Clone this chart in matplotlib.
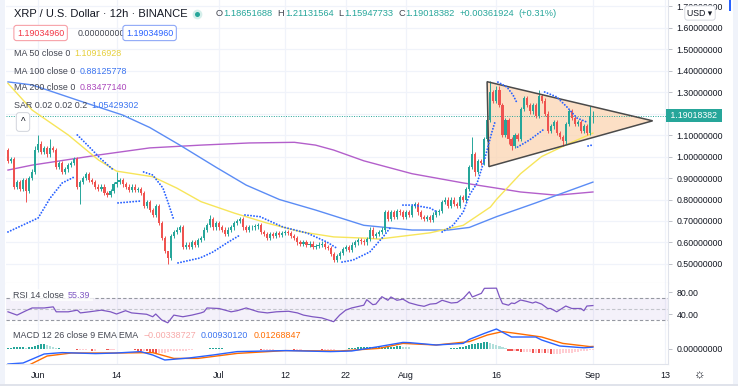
import numpy as np
import matplotlib
matplotlib.use("Agg")
import matplotlib.pyplot as plt
from matplotlib.patches import Polygon, Rectangle
from matplotlib.lines import Line2D

plt.rcParams['font.family'] = ['Liberation Sans', 'DejaVu Sans']

# 12h candles: index 0 = May 27 00:00, index 194 = Sep 1 00:00
start_day = -5  # days relative to Jun 1
first_open = 1.03
closes = [
    0.98, 0.99, 0.86, 0.88, 0.85, 0.89, 0.84, 0.90, 0.93, 1.03,
    1.06, 1.02, 1.04, 1.01, 1.04, 1.03, 0.95, 0.97, 0.93, 0.94,
    0.96, 0.97, 0.99, 0.86, 0.88, 0.90, 0.92, 0.89, 0.88, 0.86,
    0.85, 0.86, 0.83, 0.82, 0.84, 0.87, 0.88, 0.89, 0.87, 0.86,
    0.845, 0.86, 0.845, 0.85, 0.83, 0.77, 0.79, 0.75, 0.73, 0.77,
    0.69, 0.62, 0.56, 0.53, 0.63, 0.65, 0.66, 0.67, 0.58, 0.59,
    0.58, 0.60, 0.59, 0.61, 0.62, 0.66, 0.68, 0.71, 0.67, 0.69,
    0.67, 0.66, 0.64, 0.66, 0.67, 0.69, 0.70, 0.71, 0.67, 0.66,
    0.67, 0.67, 0.675, 0.68, 0.65, 0.64, 0.62, 0.64, 0.63, 0.645,
    0.635, 0.645, 0.65, 0.645, 0.63, 0.62, 0.60, 0.595, 0.60, 0.59,
    0.595, 0.58, 0.585, 0.59, 0.595, 0.58, 0.575, 0.545, 0.52, 0.535,
    0.55, 0.57, 0.58, 0.565, 0.59, 0.60, 0.61, 0.605, 0.60, 0.615,
    0.66, 0.63, 0.64, 0.65, 0.66, 0.74, 0.71, 0.74, 0.72, 0.745,
    0.74, 0.72, 0.74, 0.73, 0.77, 0.78, 0.74, 0.72, 0.71, 0.72,
    0.705, 0.73, 0.74, 0.745, 0.79, 0.80, 0.77, 0.80, 0.78, 0.77,
    0.81, 0.80, 0.85, 0.95, 1.01, 0.93, 0.98, 0.97, 1.08, 1.17,
    1.30, 1.26, 1.31, 1.24, 1.10, 1.17, 1.08, 1.05, 1.10, 1.08,
    1.22, 1.27, 1.24, 1.21, 1.24, 1.19, 1.28, 1.26, 1.20, 1.12,
    1.14, 1.16, 1.11, 1.09, 1.07, 1.15, 1.21, 1.18, 1.15, 1.16,
    1.12, 1.14, 1.11, 1.1865, 1.19018,
]
# shadow lengths in cents, one digit per candle
wick_up = ("1111111112" "4111411111" "1111111111" "1111115111" "1111111111"
           "1110111111" "1111111211" "1111111111" "1111111111" "1111111111"
           "1111111111" "1111111111" "1111111111" "1111111111" "1111111111"
           "1111811111" "5122111111" "1111113111" "1111111111" "11152")
wick_dn = ("1111115111" "1111111111" "1111811111" "1111111111" "1111111111"
           "1113111111" "1111111111" "1111111111" "1111111111" "1111111111"
           "1111111111" "1111111111" "1111111111" "1111111111" "1111111111"
           "1111121111" "1111112211" "1111111111" "1111211111" "11113")

ma50_idx = [0, 8, 20, 30, 36, 48, 56, 64, 75, 86, 97, 108, 119, 123, 140, 151, 160, 162, 170, 177, 186, 194]
ma50_val = [1.34, 1.216, 1.10, 0.984, 0.932, 0.906, 0.853, 0.79, 0.737, 0.69, 0.65, 0.626, 0.62, 0.616,
            0.645, 0.68, 0.765, 0.80, 0.92, 1.0, 1.06, 1.109]
ma100_idx = [0, 8, 25, 38, 47, 57, 69, 79, 90, 102, 118, 134, 146, 153, 162, 175, 182, 194]
ma100_val = [1.347, 1.333, 1.253, 1.193, 1.135, 1.053, 0.95, 0.867, 0.80, 0.751, 0.68, 0.658, 0.658,
             0.67, 0.72, 0.784, 0.82, 0.881]
ma200_idx = [0, 8, 30, 47, 64, 80, 95, 102, 108, 118, 134, 151, 162, 170, 182, 194]
ma200_val = [0.937, 0.96, 1.007, 1.04, 1.053, 1.063, 1.066, 1.053, 1.03, 0.98, 0.92, 0.877, 0.853,
             0.835, 0.82, 0.835]

sar_segments = [
    ([0, 10, 14, 18, 22], [0.649, 0.714, 0.807, 0.877, 0.905]),
    ([23, 27, 30.5, 35], [1.10, 1.044, 0.993, 0.937]),
    ([36.5, 44], [0.784, 0.793]),
    ([45, 48, 51.4, 53, 55], [0.928, 0.914, 0.853, 0.79, 0.705]),
    ([56.4, 63.7, 68, 72.6, 77], [0.505, 0.528, 0.556, 0.598, 0.635]),
    ([78.6, 83.6, 91.2, 99.2, 105.8, 109], [0.728, 0.72, 0.672, 0.644, 0.602, 0.574]),
    ([110.8, 114.4, 120, 124.4, 126.7], [0.509, 0.518, 0.556, 0.626, 0.667]),
    ([131, 134.3, 140, 142.3], [0.774, 0.774, 0.76, 0.742]),
    ([144, 147.6, 151, 153, 155.6, 158, 160.5, 161.5], [0.649, 0.68, 0.742, 0.82, 0.877, 0.984, 1.114, 1.16]),
    ([162.5, 165.5, 167.5, 168.8], [1.346, 1.323, 1.286, 1.25]),
    ([169, 173, 177.4], [1.044, 1.077, 1.123]),
    ([178, 182, 185.4, 188.7, 192], [1.30, 1.277, 1.23, 1.179, 1.16]),
    ([192.4, 194], [1.049, 1.054]),
]

tri_idx = [158.9, 159.5, 213.8]
tri_val = [1.348, 0.953, 1.166]

rsi_idx = [0, 3, 6, 8, 12, 15, 16, 20, 23, 24, 27, 31, 34, 36, 39, 41, 46, 48, 49, 51, 53, 55, 58, 61,
           64, 65, 66, 70, 74, 76, 79, 83, 86, 89, 93, 96, 98, 101, 104, 108, 110, 112, 114, 118, 119,
           121, 122, 124, 126, 127, 129, 131, 133, 136, 138, 140, 142, 144, 147, 149, 151, 153, 154,
           157, 158, 162, 163, 164, 166, 167, 168, 170, 172, 174, 175, 177, 179, 180, 182, 185, 187,
           190, 191, 192, 194]
rsi_val = [44, 38, 46, 51, 51, 53, 44, 44, 47, 42, 44, 47, 44, 40, 46, 42, 39.5, 35, 40, 29, 24, 38, 35, 38,
           42, 44, 51, 50, 44, 46, 51, 44, 42, 44, 45, 42, 38, 35, 33, 26, 38, 47, 51, 56, 66,
           57, 58, 71.5, 65, 71, 65, 67, 60.5, 56, 54, 58, 59, 65, 60, 61, 68.5, 80.5, 71,
           77.6, 86.7, 87, 71.5, 59, 56, 60, 59, 65.5, 63, 60, 62, 58, 50, 50, 44, 54.5, 50,
           50, 46, 54.5, 55.39]

macd_idx = [0, 5, 12, 18, 29, 36, 44, 48, 52, 60, 68, 76, 92, 107, 114, 123, 131, 133, 142, 151, 153,
            158, 162, 167, 175, 177, 183, 191, 194]
macd_val = [-0.075, -0.07, -0.025, -0.018, -0.023, -0.02, -0.013, -0.03, -0.055, -0.045, -0.03, -0.013,
            -0.008, -0.013, -0.01, 0.012, 0.033, 0.032, 0.02, 0.028, 0.048, 0.078, 0.10, 0.06, 0.06,
            0.045, 0.015, 0.006, 0.0093]
signal_idx = [0, 5, 7, 13, 21, 36, 48, 55, 63, 76, 92, 110, 123, 131, 142, 153, 159, 164, 170, 177, 184,
              193, 194]
signal_val = [-0.11, -0.095, -0.08, -0.035, -0.02, -0.02, -0.018, -0.047, -0.047, -0.022, -0.008, -0.01,
              0.003, 0.028, 0.02, 0.037, 0.07, 0.087, 0.075, 0.06, 0.028, 0.012, 0.0127]
# histogram, thousandths
hist_milli = [
    5, 5, 10, 10, 10, 10, 5, 10, 10, 15, 20, 25, 25, 20, 15, 10, 5, 5, 2, 2,
    0, 0, -2, -5, -5, -5, -5, -2, -8, -8, -2, -2, -2, -5, -5, -5, -2, 0, 0, -2,
    -2, -2, -5, -8, -10, -10, -12, -15, -18, -20, -20, -20, -18, -15, -12, -10, -10, -10, -8, -8,
    -5, -5, -2, -2, -2, 2, 2, 5, 5, 5, 5, 5, 2, 2, 2, 2, 2, 2, 2, 2,
    0, 0, 0, -2, -5, -5, -5, -5, -5, -2, -2, -2, 0, 0, -2, -5, -5, -5, -2, -2,
    -2, -2, -2, -2, -5, -5, -5, -5, -5, -2, -2, 0, 2, 5, 5, 5, 8, 8, 8, 8,
    8, 8, 10, 10, 10, 10, 10, 10, 12, 15, 15, 12, 10, 8, 2, 2, -2, -2, -2, -2,
    -2, -2, -2, -2, 2, 2, 2, 5, 5, 5, 8, 10, 15, 20, 25, 25, 30, 30, 35, 35,
    30, 25, 20, 15, 10, 5, -8, -10, -10, -12, -15, -15, -15, -15, -18, -18, -20, -20, -22, -22,
    -25, -25, -25, -25, -22, -20, -20, -18, -15, -15, -12, -10, -8, -5, -3,
]

tick_days = [0, 13, 30, 41, 51, 61, 76, 92, 104]
tick_labels = ["Jun", "14", "Jul", "12", "22", "Aug", "16", "Sep", "13"]
price_ticks = [0.5, 0.6, 0.7, 0.8, 0.9, 1.0, 1.1, 1.2, 1.3, 1.4, 1.5, 1.6, 1.7]

UP, DOWN = '#26a69a', '#ef5350'
GRID = '#f0f3fa'
SEP = '#e0e3eb'
TXT = '#131722'
LBL = '#434651'

W, H = 738, 386
fig = plt.figure(figsize=(W / 100, H / 100), dpi=100)
renderer = fig.canvas.get_renderer()


def pane(top, bottom):
    return fig.add_axes([6 / W, 1 - bottom / H, (668 - 6) / W, (bottom - top) / H])


ax = pane(0, 283)
ax_rsi = pane(283, 325)
ax_macd = pane(325, 364)

n = len(closes)
idx = np.arange(n)
c = np.array(closes)
o = np.array([first_open] + closes[:-1])
hi = np.maximum(o, c) + np.array([int(ch) for ch in wick_up]) / 100
lo = np.minimum(o, c) - np.array([int(ch) for ch in wick_dn]) / 100
cols = np.where(c >= o, UP, DOWN)
tick_idx = [(d - start_day) * 2 for d in tick_days]

for a in (ax, ax_rsi, ax_macd):
    a.set_xlim(-0.66, 218.9)
    a.set_xticks(tick_idx)
    a.grid(axis='x', color=GRID, lw=0.9)
    a.set_axisbelow(True)
    for s in ('left', 'top'):
        a.spines[s].set_visible(False)
    a.spines['right'].set_color(SEP)
    a.spines['bottom'].set_color(SEP)
    a.yaxis.tick_right()
    a.tick_params(axis='y', length=3, width=0.6, color='#b2b5be', labelsize=6.3,
                  labelcolor=TXT, pad=3)
    a.tick_params(axis='x', length=0, labelbottom=False)

# price pane
ax.set_ylim(0.4116, 1.728)
ax.set_yticks(price_ticks)
# 1.2 sits under the last-price tag
ax.set_yticklabels(['' if abs(p - 1.2) < 1e-9 else '%.8f' % p for p in price_ticks])
ax.grid(axis='y', color=GRID, lw=0.9)

ax.add_patch(Polygon(list(zip(tri_idx, tri_val)), closed=True, fc='#fbd5b2', ec='none',
                     alpha=0.75, zorder=1))
ax.plot(ma200_idx, ma200_val, color='#b35fcb', lw=1.0, zorder=2)
ax.plot(ma100_idx, ma100_val, color='#5b8cf5', lw=1.0, zorder=2)
ax.plot(ma50_idx, ma50_val, color='#f7e55a', lw=1.0, zorder=2)

ax.vlines(idx, lo, hi, colors=cols, lw=0.7, zorder=3)
ax.bar(idx, np.maximum(np.abs(c - o), 0.002), bottom=np.minimum(o, c), width=0.7,
       color=cols, zorder=3)

ax.add_patch(Polygon(list(zip(tri_idx, tri_val)), closed=True, fc='none', ec='#4a4a4a',
                     lw=1.1, zorder=4))
for sx, sy in sar_segments:
    ax.plot(sx, sy, color='#2962ff', lw=1.4, linestyle=(0, (0.01, 1.55)),
            dash_capstyle='round', zorder=5)

ax.axhline(closes[-1], color=UP, lw=0.7, linestyle=(0, (1, 1.5)), zorder=1)
ax.text(1.0, closes[-1], ' 1.19018382 ', transform=ax.get_yaxis_transform(), ha='left',
        va='center', fontsize=6.3, color='white', zorder=10, clip_on=False,
        bbox=dict(boxstyle='square,pad=0.25', fc=UP, ec='none'))

# rsi pane
ax_rsi.set_ylim(20, 96.4)
ax_rsi.set_yticks([40, 80])
ax_rsi.set_yticklabels(['40.00', '80.00'])
ax_rsi.axhspan(30, 70, color='#7e57c2', alpha=0.08, lw=0)
for lvl, col in ((70, '#9598a1'), (50, '#c3c5cc'), (30, '#9598a1')):
    ax_rsi.axhline(lvl, color=col, lw=0.8, linestyle=(0, (3, 2)))
ax_rsi.plot(rsi_idx, rsi_val, color='#7e57c2', lw=0.9)

# macd pane
ax_macd.set_ylim(-0.075, 0.12)
ax_macd.set_yticks([0])
ax_macd.set_yticklabels(['0.00000000'])
h = np.array(hist_milli) / 1000
prev = np.concatenate([[0], h[:-1]])
hcols = np.where(h >= 0, np.where(h >= prev, '#26a69a', '#b2dfdb'),
                 np.where(h < prev, '#ef5350', '#ffcdd2'))
ax_macd.bar(idx, h, width=0.7, color=hcols)
ax_macd.plot(signal_idx, signal_val, color='#ff6d00', lw=1.0)
ax_macd.plot(macd_idx, macd_val, color='#2962ff', lw=1.0)
ax_macd.tick_params(axis='x', labelbottom=True, labelsize=6.4, labelcolor=TXT, pad=5)
ax_macd.set_xticklabels(tick_labels)


# overlay texts
def ftext(x, y, s, **kw):
    kw.setdefault('fontsize', 6.4)
    kw.setdefault('color', LBL)
    return fig.text(x / W, 1 - y / H, s, ha=kw.pop('ha', 'left'), va='center', **kw)


def run(x, y, pieces, fontsize=6.4):
    # place coloured pieces one after another; each piece: (text, colour, gap after in px)
    for s, col, gap in pieces:
        t = ftext(x, y, s, color=col, fontsize=fontsize)
        x += t.get_window_extent(renderer=renderer).width + gap
    return x


ftext(14, 14, 'XRP / U.S. Dollar · 12h · BINANCE', fontsize=8, color=TXT)
fig.add_artist(Line2D([197 / W], [1 - 14 / H], transform=fig.transFigure, marker='o',
                      ms=7, mfc='#d5efeb', mec='none'))
fig.add_artist(Line2D([197 / W], [1 - 14 / H], transform=fig.transFigure, marker='o',
                      ms=3.6, mfc=UP, mec='none'))
run(216, 14, [('O', LBL, 0.5), ('1.18651688', UP, 5), ('H', LBL, 0.5), ('1.21131564', UP, 5),
              ('L', LBL, 0.5), ('1.15947733', UP, 5), ('C', LBL, 0.5), ('1.19018382', UP, 5),
              ('+0.00361924', UP, 4), ('(+0.31%)', UP, 0)], fontsize=6.7)

ftext(17, 33, '1.19034960', color='#f23645',
      bbox=dict(boxstyle='round,pad=0.35,rounding_size=0.3', fc='white', ec='#f7a1a8', lw=0.8))
ftext(78, 33, '0.00000000')
ftext(126, 33, '1.19034960', color='#2962ff',
      bbox=dict(boxstyle='round,pad=0.35,rounding_size=0.3', fc='white', ec='#8fa9f7', lw=0.8))
run(14, 53, [('MA 50 close 0', LBL, 4), ('1.10916928', '#e6cf3a', 0)])
run(14, 71, [('MA 100 close 0', LBL, 4), ('0.88125778', '#3b74f0', 0)])
run(14, 88, [('MA 200 close 0', LBL, 4), ('0.83477140', '#ab47bc', 0)])
run(14, 105, [('SAR 0.02 0.02 0.2', LBL, 4), ('1.05429302', '#3b74f0', 0)])
ftext(23, 122, '^', fontsize=7, color=TXT, ha='center',
      bbox=dict(boxstyle='round,pad=0.45,rounding_size=0.3', fc='white', ec='#d1d4dc', lw=0.7))

ftext(13, 295, 'RSI 14 close  55.39', color='white', alpha=0,
      bbox=dict(boxstyle='square,pad=0.2', fc='white', ec='none', alpha=0.8))
run(13, 295, [('RSI 14 close', LBL, 4), ('55.39', '#7e57c2', 0)])
run(13, 336, [('MACD 12 26 close 9 EMA EMA', LBL, 5), ('\u22120.00338727', '#f7a9a8', 5),
              ('0.00930120', '#3b74f0', 5), ('0.01268847', '#ff6d00', 0)])

ftext(700, 13, 'USD \u25be', fontsize=6.3, color=TXT, ha='center',
      bbox=dict(boxstyle='round,pad=0.3,rounding_size=0.3', fc='white', ec='#d1d4dc', lw=0.6))
ftext(700, 375, '\u263c', fontsize=9, color=TXT, ha='center')

# frame bits
fig.add_artist(Rectangle((0, 0), 5 / W, 1, transform=fig.transFigure, fc='#f0f3fa', ec='none'))
fig.add_artist(Rectangle((733 / W, 0), 5 / W, 1, transform=fig.transFigure, fc='#f0f3fa', ec='none'))
fig.add_artist(Rectangle((0, 0), 1, 2 / H, transform=fig.transFigure, fc='#e0e3eb', ec='none'))
fig.add_artist(Rectangle((729 / W, 1 - 11 / H), 2 / W, 11 / H, transform=fig.transFigure,
                         fc='#2962ff', ec='none'))

fig.savefig('out.png', dpi=100)
